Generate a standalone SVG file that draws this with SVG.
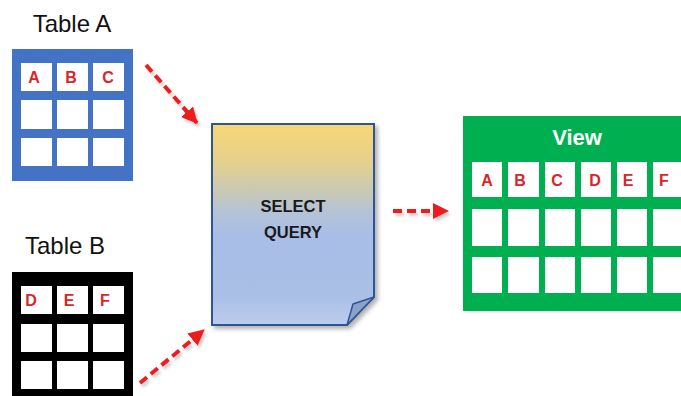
<svg xmlns="http://www.w3.org/2000/svg" width="681" height="396" viewBox="0 0 681 396">
  <style>
    .title { font-family: "Liberation Sans", Arial, sans-serif; font-size: 24px; fill: #111; }
    .cell { fill: #ffffff; }
    .lbl { font-family: "Liberation Sans", Arial, sans-serif; font-weight: bold; font-size: 16px; fill: #d9262b; text-anchor: middle; }
    .conn { fill: none; stroke: #ee1c1c; stroke-width: 4; stroke-dasharray: 9 5; }
    .q { font-family: "Liberation Sans", Arial, sans-serif; font-weight: bold; font-size: 16.5px; fill: #1a1a1a; text-anchor: middle; }
  </style>
  <defs>
    <marker id="ah" viewBox="0 0 16 16" refX="15" refY="8" markerWidth="16" markerHeight="16" markerUnits="userSpaceOnUse" orient="auto">
      <path d="M0,0 L16,8 L0,16 Z" fill="#ee1c1c"/>
    </marker>
    <linearGradient id="qg" x1="0" y1="0" x2="0" y2="1">
      <stop offset="0" stop-color="#f8d674"/>
      <stop offset="0.2" stop-color="#e3d08e"/>
      <stop offset="0.45" stop-color="#b3c2d8"/>
      <stop offset="0.55" stop-color="#a9bee6"/>
      <stop offset="0.85" stop-color="#aabfe6"/>
      <stop offset="1" stop-color="#bccced"/>
    </linearGradient>
    <filter id="sh" x="-10%" y="-10%" width="130%" height="130%">
      <feDropShadow dx="3" dy="3" stdDeviation="2" flood-color="#000" flood-opacity="0.3"/>
    </filter>
    <filter id="ash" x="-20%" y="-20%" width="150%" height="150%">
      <feDropShadow dx="2" dy="3" stdDeviation="1.5" flood-color="#000" flood-opacity="0.2"/>
    </filter>
  </defs>

  <g id="tableA">
    <text class="title" x="72" y="32" text-anchor="middle">Table A</text>
    <rect x="12" y="49" width="121" height="132" fill="#4472c4"/>
    <rect class="cell" x="21" y="63" width="31" height="28"/>
    <rect class="cell" x="57" y="63" width="31" height="28"/>
    <rect class="cell" x="93" y="63" width="31" height="28"/>
    <rect class="cell" x="21" y="100" width="31" height="29"/>
    <rect class="cell" x="57" y="100" width="31" height="29"/>
    <rect class="cell" x="93" y="100" width="31" height="29"/>
    <rect class="cell" x="21" y="138" width="31" height="28"/>
    <rect class="cell" x="57" y="138" width="31" height="28"/>
    <rect class="cell" x="93" y="138" width="31" height="28"/>
    <text class="lbl" x="34" y="83">A</text>
    <text class="lbl" x="71" y="83">B</text>
    <text class="lbl" x="108" y="83">C</text>
  </g>

  <g id="tableB">
    <text class="title" x="65" y="254" text-anchor="middle">Table B</text>
    <rect x="12" y="272" width="121" height="124" fill="#000"/>
    <rect class="cell" x="21" y="286" width="31" height="28"/>
    <rect class="cell" x="57" y="286" width="31" height="28"/>
    <rect class="cell" x="93" y="286" width="31" height="28"/>
    <rect class="cell" x="21" y="324" width="31" height="28"/>
    <rect class="cell" x="57" y="324" width="31" height="28"/>
    <rect class="cell" x="93" y="324" width="31" height="28"/>
    <rect class="cell" x="21" y="361" width="31" height="28"/>
    <rect class="cell" x="57" y="361" width="31" height="28"/>
    <rect class="cell" x="93" y="361" width="31" height="28"/>
    <text class="lbl" x="31" y="306">D</text>
    <text class="lbl" x="69" y="306">E</text>
    <text class="lbl" x="105" y="306">F</text>
  </g>

  <g id="query">
    <path d="M212,124 L374,124 L374,297 L347,325 L212,325 Z" fill="url(#qg)" stroke="#2f5597" stroke-width="2" filter="url(#sh)"/>
    <path d="M374,297 L347,325 L353,304 Z" fill="#8da2c8" stroke="#2f5597" stroke-width="1.5" stroke-linejoin="round"/>
    <text class="q" x="293" y="212">SELECT</text>
    <text class="q" x="293" y="238">QUERY</text>
  </g>

  <g id="view">
    <rect x="463" y="116" width="218" height="195" fill="#00b050"/>
    <text x="577" y="145" text-anchor="middle" font-family="'Liberation Sans', Arial, sans-serif" font-weight="bold" font-size="22" fill="#ffffff">View</text>
    <g class="cell">
      <rect x="472" y="162" width="30" height="35"/>
      <rect x="508" y="162" width="31" height="35"/>
      <rect x="545" y="162" width="30" height="35"/>
      <rect x="581" y="162" width="30" height="35"/>
      <rect x="617" y="162" width="30" height="35"/>
      <rect x="653" y="162" width="30" height="35"/>
      <rect x="472" y="209" width="30" height="37"/>
      <rect x="508" y="209" width="31" height="37"/>
      <rect x="545" y="209" width="30" height="37"/>
      <rect x="581" y="209" width="30" height="37"/>
      <rect x="617" y="209" width="30" height="37"/>
      <rect x="653" y="209" width="30" height="37"/>
      <rect x="472" y="257" width="30" height="36"/>
      <rect x="508" y="257" width="31" height="36"/>
      <rect x="545" y="257" width="30" height="36"/>
      <rect x="581" y="257" width="30" height="36"/>
      <rect x="617" y="257" width="30" height="36"/>
      <rect x="653" y="257" width="30" height="36"/>
    </g>
    <text class="lbl" x="487" y="186">A</text>
    <text class="lbl" x="520" y="186">B</text>
    <text class="lbl" x="557" y="186">C</text>
    <text class="lbl" x="595" y="186">D</text>
    <text class="lbl" x="628" y="186">E</text>
    <text class="lbl" x="664" y="186">F</text>
  </g>

  <g id="connectors" filter="url(#ash)">
    <line class="conn" x1="146" y1="65" x2="197" y2="123" marker-end="url(#ah)"/>
    <line class="conn" x1="140" y1="383" x2="204" y2="330" marker-end="url(#ah)"/>
    <line class="conn" x1="393" y1="211" x2="448" y2="211" marker-end="url(#ah)"/>
  </g>
</svg>
